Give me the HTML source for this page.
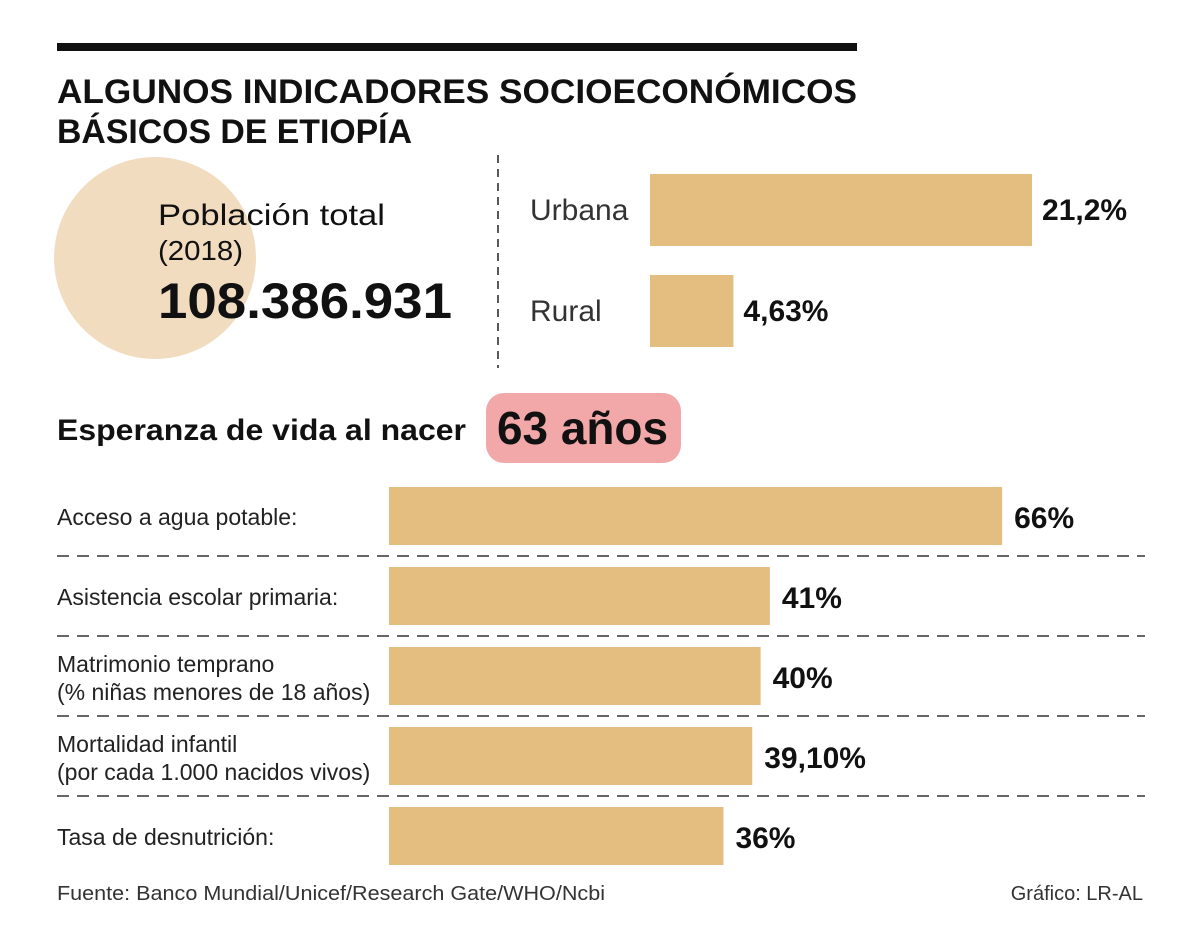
<!DOCTYPE html>
<html><head><meta charset="utf-8"><style>
html,body{margin:0;padding:0;background:#fff;}
svg{display:block;font-family:"Liberation Sans",sans-serif;}
</style></head><body>
<svg id="chart" width="1200" height="950" viewBox="0 0 1200 950">
<rect x="0" y="0" width="1200" height="950" fill="#fff"/>
<rect x="57" y="43" width="800" height="8" fill="#111"/>
<text x="57" y="103" font-size="34" font-weight="bold" fill="#111" textLength="800" lengthAdjust="spacingAndGlyphs">ALGUNOS INDICADORES SOCIOECONÓMICOS</text>
<text x="57" y="143" font-size="34" font-weight="bold" fill="#111" textLength="355" lengthAdjust="spacingAndGlyphs">BÁSICOS DE ETIOPÍA</text>
<circle cx="155" cy="258" r="101" fill="#f2dcc0"/>
<text x="158" y="225" font-size="30" fill="#111" textLength="227" lengthAdjust="spacingAndGlyphs">Población total</text>
<text x="158" y="260" font-size="28" fill="#111" textLength="85" lengthAdjust="spacingAndGlyphs">(2018)</text>
<text x="158" y="318" font-size="50" font-weight="bold" fill="#111" textLength="294" lengthAdjust="spacingAndGlyphs">108.386.931</text>
<line x1="498" y1="155" x2="498" y2="368" stroke="#222" stroke-width="1.5" stroke-dasharray="8,6"/>
<g id="top"></g>
<text x="57" y="440" font-size="30" font-weight="bold" fill="#111" textLength="409" lengthAdjust="spacingAndGlyphs">Esperanza de vida al nacer</text>
<rect x="486" y="393" width="195" height="70" rx="18" fill="#f2a7a9"/>
<text x="497" y="444" font-size="46" font-weight="bold" fill="#111" textLength="171" lengthAdjust="spacingAndGlyphs">63 años</text>
<g id="bottom"></g>
<text x="57" y="900" font-size="20" fill="#333" textLength="548" lengthAdjust="spacingAndGlyphs">Fuente: Banco Mundial/Unicef/Research Gate/WHO/Ncbi</text>
<text x="1143" y="900" font-size="20" fill="#333" text-anchor="end">Gráfico: LR-AL</text>
</svg>
<script>
const topCats = ["Urbana","Rural"];
const topVals = [21.2, 4.63];
const topLabels = ["21,2%","4,63%"];
const botCats = [["Acceso a agua potable:"],["Asistencia escolar primaria:"],["Matrimonio temprano","(% niñas menores de 18 años)"],["Mortalidad infantil","(por cada 1.000 nacidos vivos)"],["Tasa de desnutrición:"]];
const botVals = [66, 41, 40, 39.1, 36];
const botLabels = ["66%","41%","40%","39,10%","36%"];

const NS="http://www.w3.org/2000/svg";
function mk(tag,attrs,parent,txt){const e=document.createElementNS(NS,tag);for(const k in attrs)e.setAttribute(k,attrs[k]);if(txt!==undefined)e.textContent=txt;parent.appendChild(e);return e;}
const xTop=v=>650+v*18.02;
const xBot=v=>389+v*9.29;
const gt=document.getElementById('top');
topCats.forEach((c,i)=>{
  const y=174+i*101;
  const r=mk('rect',{x:650,y:y,width:xTop(topVals[i])-650,height:72,fill:'#e4bd80'},gt);
  
  
  const t=mk('text',{x:530,y:y+46,'font-size':30,fill:'#333'},gt,c);
  
  
  const v=mk('text',{x:xTop(topVals[i])+10,y:y+46,'font-size':30,'font-weight':'bold',fill:'#111'},gt,topLabels[i]);
  
  
});
const gb=document.getElementById('bottom');
botCats.forEach((c,i)=>{
  const y=487+i*80;
  const r=mk('rect',{x:389,y:y,width:xBot(botVals[i])-389,height:58,fill:'#e4bd80'},gb);
  
  
  c.forEach((line,j)=>{
    const yy = c.length===1 ? y+38 : y+25+j*28;
    const t=mk('text',{x:57,y:yy,'font-size':23,fill:'#222'},gb,line);
    
    
  });
  const v=mk('text',{x:xBot(botVals[i])+12,y:y+41,'font-size':30,'font-weight':'bold',fill:'#111'},gb,botLabels[i]);
  
  
  if(i<botCats.length-1){
    const l=mk('line',{x1:57,y1:y+69,x2:1145,y2:y+69,stroke:'#333','stroke-width':1.5,'stroke-dasharray':'12,8'},gb);
    
    
  }
});
</script>
</body></html>
